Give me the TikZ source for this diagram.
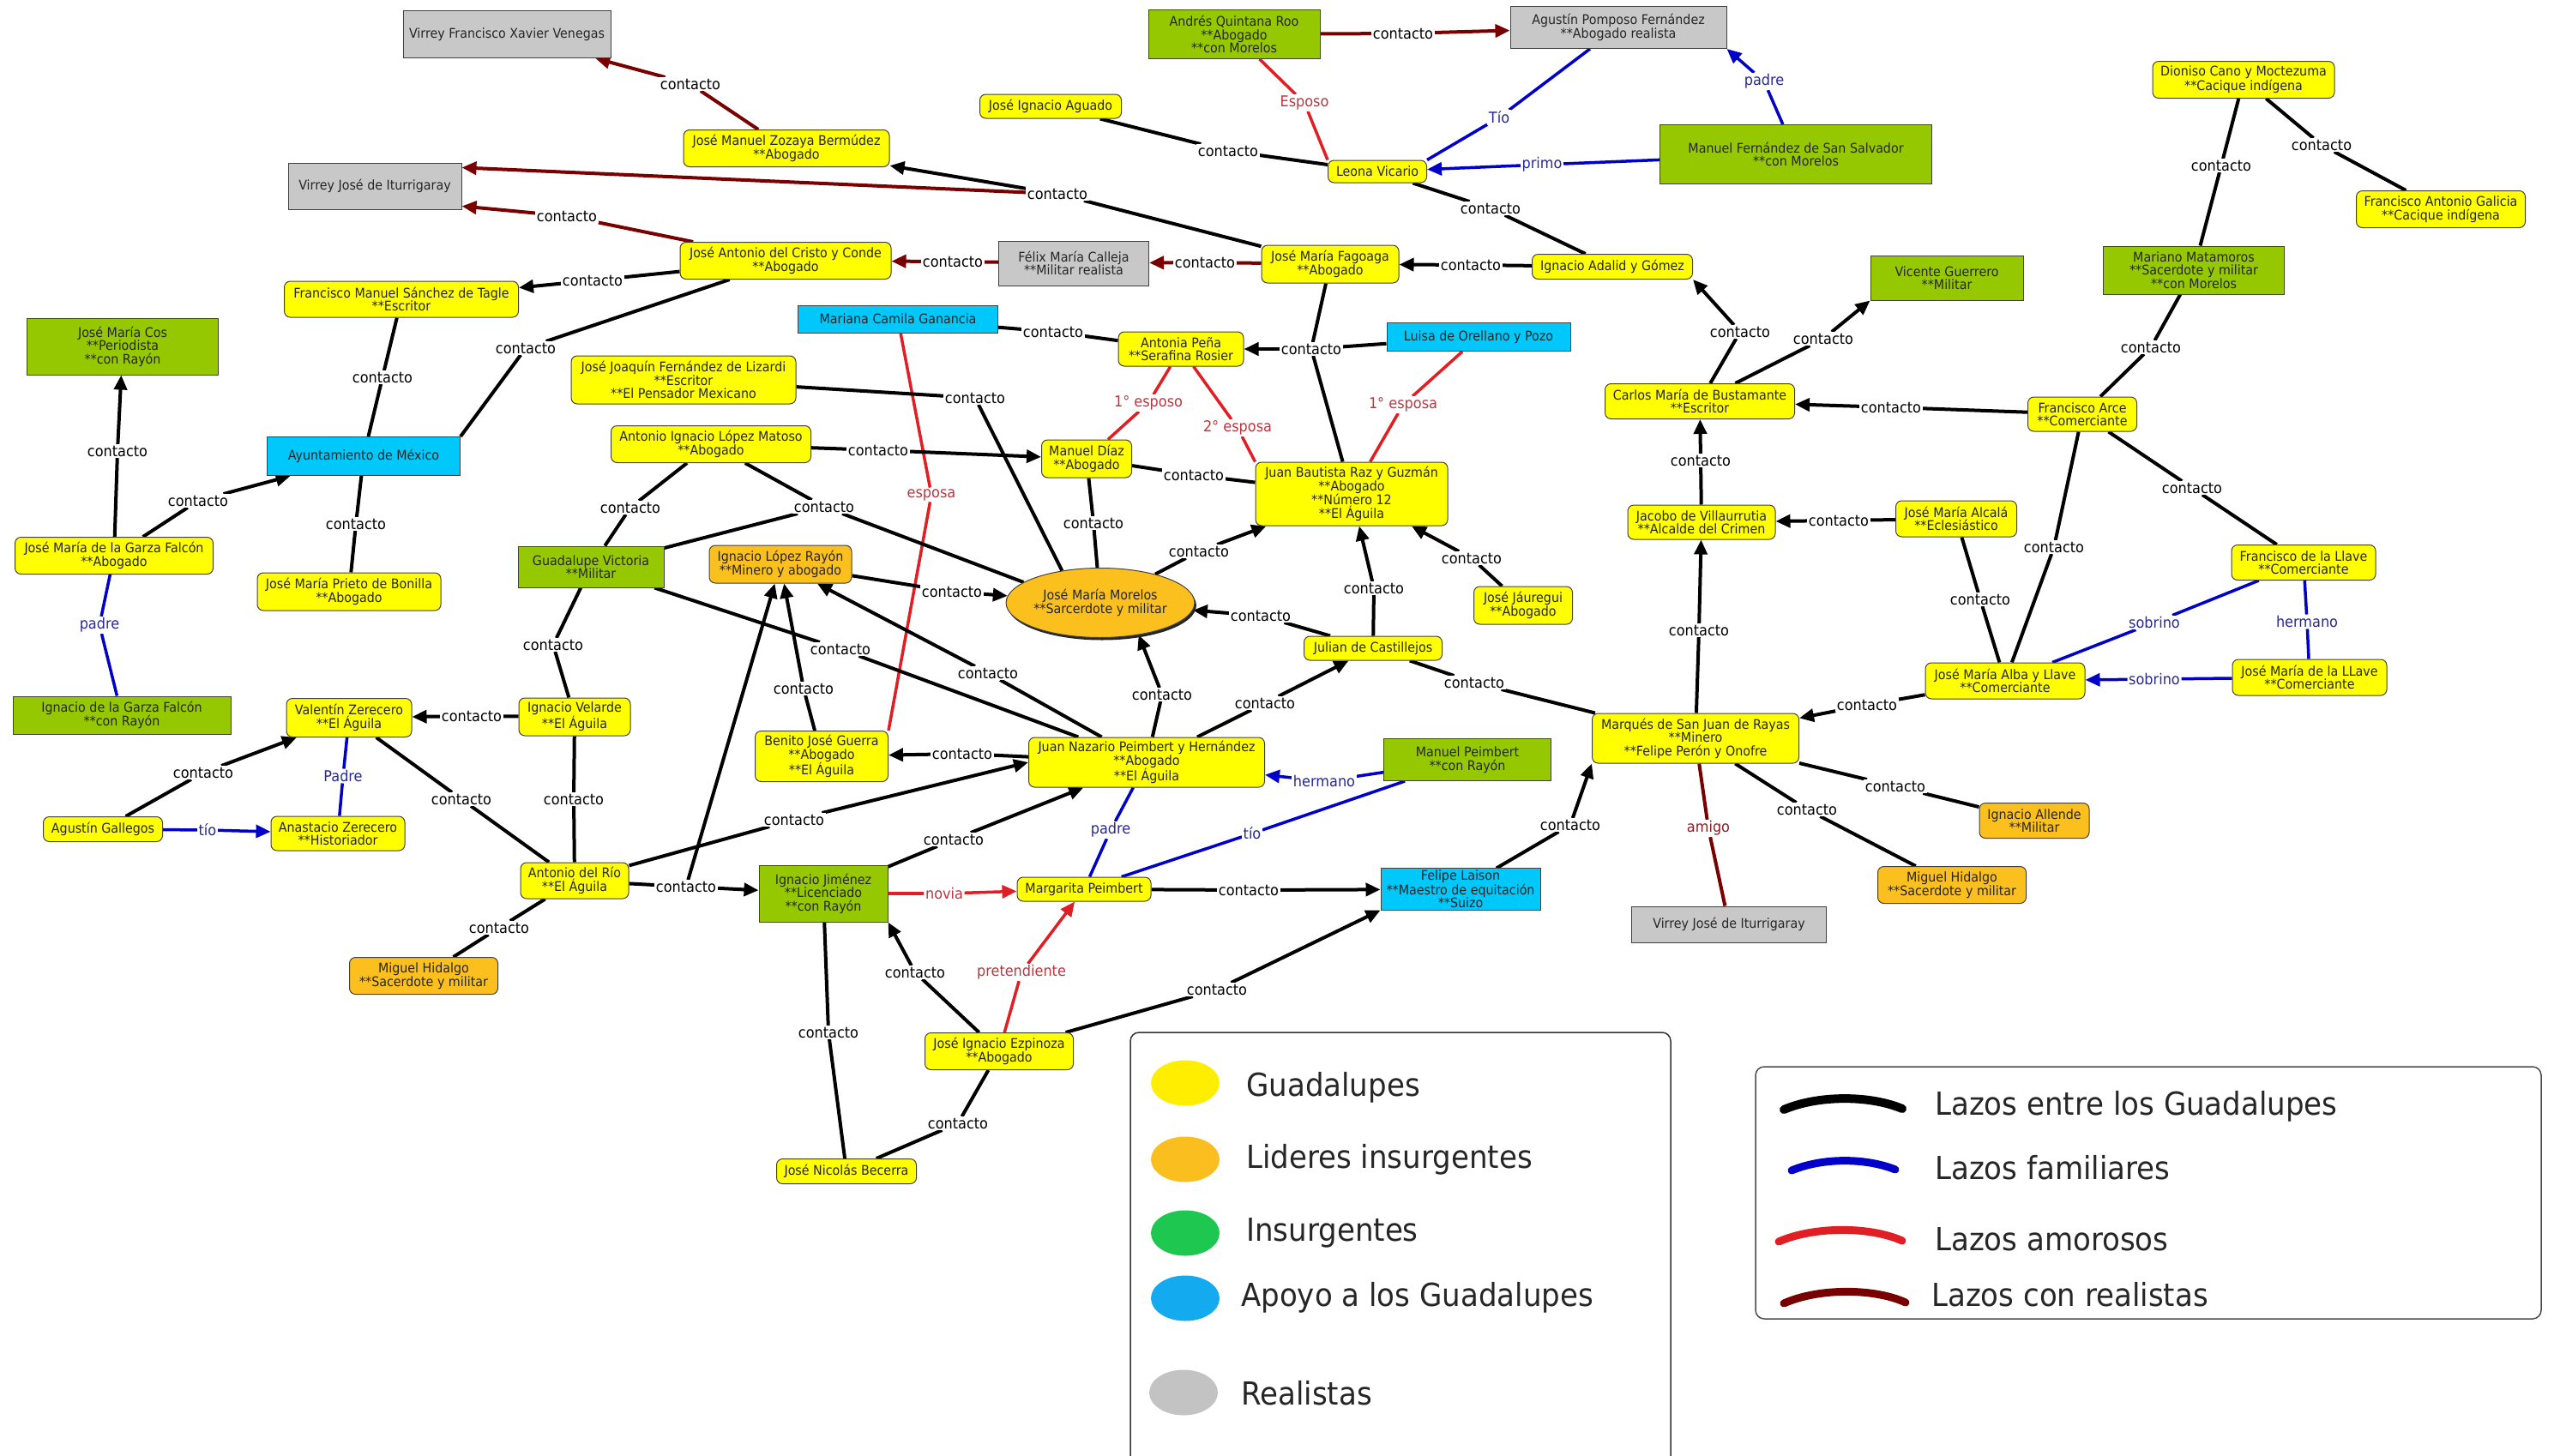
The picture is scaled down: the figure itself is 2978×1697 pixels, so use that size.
\documentclass[tikz,border=0pt]{standalone}
\usepackage{fontspec}
\setmainfont{DejaVu Sans}[FakeStretch=0.92]
\usetikzlibrary{arrows.meta,shapes.geometric,shadows}
\definecolor{cyel}{RGB}{255,255,0}
\definecolor{corg}{RGB}{252,192,30}
\definecolor{cgrn}{RGB}{150,200,0}
\definecolor{cblu}{RGB}{0,200,250}
\definecolor{cgry}{RGB}{200,200,200}
\definecolor{cdred}{RGB}{120,0,0}
\definecolor{cred}{RGB}{225,30,35}
\definecolor{cbl}{RGB}{0,0,200}
\definecolor{tblu}{RGB}{40,40,150}
\definecolor{tred}{RGB}{185,55,65}
\definecolor{tdred}{RGB}{140,30,40}
\definecolor{ltyel}{RGB}{255,238,0}
\definecolor{ltorg}{RGB}{250,190,30}
\definecolor{ltgrn}{RGB}{30,200,80}
\definecolor{ltblu}{RGB}{20,170,240}
\definecolor{ltgry}{RGB}{195,195,195}
\newcommand\nodefont{\fontsize{15.5}{15.5}\selectfont}
\newcommand\labfont{\fontsize{17.5}{18}\selectfont}
\newcommand\legfont{\fontsize{37}{40}\selectfont}
\newcommand\Nd[7]{\node[#1,minimum width=#5pt,minimum height=#6pt] (#2) at (#3,#4) {#7};}
\newcommand\Lb[5]{\node[#1] (#2) at (#3,#4) {#5};}
\pgfdeclarelayer{bgl}\pgfdeclarelayer{edges}\pgfsetlayers{bgl,edges,main}
\tikzset{
 nd/.style={draw=black!75,line width=1pt,align=center,inner sep=2pt,font=\nodefont,text=black!85},
 yel/.style={nd,fill=cyel,rounded corners=7pt},
 org/.style={nd,fill=corg,rounded corners=7pt},
 grn/.style={nd,fill=cgrn},
 blu/.style={nd,fill=cblu},
 gry/.style={nd,fill=cgry},
 lab/.style={font=\labfont,inner sep=1.5pt,fill=white,text=black},
 labf/.style={lab,text=tblu},
 labr/.style={lab,text=tred},
 labd/.style={lab,text=tdred},
 tip/.style={-{Triangle[length=17pt,width=15pt]}},
 c/.style={line width=4pt,black},
 ca/.style={c,tip},
 r/.style={line width=4pt,cdred},
 ra/.style={r,tip},
 a/.style={line width=3.5pt,cred},
 aa/.style={a,tip},
 f/.style={line width=3.5pt,cbl},
 fa/.style={f,tip},
 legtxt/.style={font=\legfont,anchor=west,inner sep=0pt,text=black!85}
}
\begin{document}
\begin{tikzpicture}[x=1pt,y=-1pt]
\useasboundingbox (0,0) rectangle (2978,1697);
\begin{pgfonlayer}{bgl}\fill[white] (0,0) rectangle (2978,1697);\end{pgfonlayer}
% realistas
\Nd{gry}{venegas}{591}{40}{242}{55}{Virrey Francisco Xavier Venegas}
\Nd{gry}{iturri1}{437}{217}{202}{54}{Virrey José de Iturrigaray}
\Nd{gry}{pomposo}{1887}{32}{252}{49}{Agustín Pomposo Fernández\\**Abogado realista}
\Nd{gry}{calleja}{1252}{307}{175}{52}{Félix María Calleja\\**Militar realista}
\Nd{gry}{iturri2}{2016}{1078}{227}{42}{Virrey José de Iturrigaray}
% insurgentes
\Nd{grn}{quintana}{1439}{40}{200}{57}{Andrés Quintana Roo\\**Abogado\\**con Morelos}
\Nd{grn}{mfss}{2094}{180}{317}{69}{Manuel Fernández de San Salvador\\**con Morelos}
\Nd{grn}{vicente}{2270}{324}{178}{52}{Vicente Guerrero\\**Militar}
\Nd{grn}{mariano}{2558}{315}{211}{56}{Mariano Matamoros\\**Sacerdote y militar\\**con Morelos}
\Nd{grn}{cos}{143}{404}{223}{66}{José María Cos\\**Periodista\\**con Rayón}
\Nd{grn}{igarza}{142}{834}{254}{44}{Ignacio de la Garza Falcón\\**con Rayón}
\Nd{grn}{victoria}{689}{661}{170}{48}{Guadalupe Victoria\\**Militar}
\Nd{grn}{jimenez}{960}{1042}{150}{66}{Ignacio Jiménez\\**Licenciado\\**con Rayón}
\Nd{grn}{mpeimbert}{1711}{886}{195}{49}{Manuel Peimbert\\**con Rayón}
% apoyo
\Nd{blu}{ayunt}{424}{532}{225}{45}{Ayuntamiento de México}
\Nd{blu}{mariana}{1047}{372}{233}{32}{Mariana Camila Ganancia}
\Nd{blu}{luisa}{1724}{393}{214}{33}{Luisa de Orellano y Pozo}
\Nd{blu}{felipe}{1703}{1037}{186}{48}{Felipe Laison\\**Maestro de equitación\\**Suizo}
% lideres
\Nd{org}{rayon}{910}{658}{166}{44}{Ignacio López Rayón\\**Minero y abogado}
\node[nd,ellipse,fill=corg,minimum width=212pt,minimum height=81pt,inner sep=0pt,drop shadow={shadow xshift=2pt,shadow yshift=-3pt,fill=black!85,opacity=1}] (morelos) at (1283,703) {José María Morelos\\**Sarcerdote y militar};
\Nd{org}{hidalgo1}{494}{1138}{173}{43}{Miguel Hidalgo\\**Sacerdote y militar}
\Nd{org}{hidalgo2}{2276}{1032}{173}{43}{Miguel Hidalgo\\**Sacerdote y militar}
\Nd{org}{allende}{2372}{957}{128}{41}{Ignacio Allende\\**Militar}
% guadalupes
\Nd{yel}{zozaya}{917}{173}{240}{43}{José Manuel Zozaya Bermúdez\\**Abogado}
\Nd{yel}{aguado}{1225}{124}{165}{28}{José Ignacio Aguado}
\Nd{yel}{leona}{1606}{200}{115}{26}{Leona Vicario}
\Nd{yel}{cristo}{916}{304}{246}{43}{José Antonio del Cristo y Conde\\**Abogado}
\Nd{yel}{tagle}{468}{349}{273}{42}{Francisco Manuel Sánchez de Tagle\\**Escritor}
\Nd{yel}{fagoaga}{1551}{308}{160}{44}{José María Fagoaga\\**Abogado}
\Nd{yel}{adalid}{1880}{311}{187}{29}{Ignacio Adalid y Gómez}
\Nd{yel}{dioniso}{2616}{93}{212}{43}{Dioniso Cano y Moctezuma\\**Cacique indígena}
\Nd{yel}{galicia}{2846}{244}{197}{43}{Francisco Antonio Galicia\\**Cacique indígena}
\Nd{yel}{antonia}{1377}{407}{146}{40}{Antonia Peña\\**Serafina Rosier}
\Nd{yel}{lizardi}{797}{443}{262}{56}{José Joaquín Fernández de Lizardi\\**Escritor\\**El Pensador Mexicano}
\Nd{yel}{matoso}{829}{518}{233}{43}{Antonio Ignacio López Matoso\\**Abogado}
\Nd{yel}{diaz}{1267}{535}{105}{44}{Manuel Díaz\\**Abogado}
\Nd{yel}{jbautista}{1576}{576}{224}{74}{Juan Bautista Raz y Guzmán\\**Abogado\\**Número 12\\**El Águila}
\Nd{yel}{carlos}{1982}{468}{221}{41}{Carlos María de Bustamante\\**Escritor}
\Nd{yel}{arce}{2428}{483}{127}{40}{Francisco Arce\\**Comerciante}
\Nd{yel}{jacobo}{1984}{609}{172}{40}{Jacobo de Villaurrutia\\**Alcalde del Crimen}
\Nd{yel}{alcala}{2281}{605}{141}{42}{José María Alcalá\\**Eclesiástico}
\Nd{yel}{fllave}{2686}{656}{168}{41}{Francisco de la Llave\\**Comerciante}
\Nd{yel}{jgarza}{133}{648}{231}{43}{José María de la Garza Falcón\\**Abogado}
\Nd{yel}{prieto}{407}{690}{214}{44}{José María Prieto de Bonilla\\**Abogado}
\Nd{yel}{jauregui}{1776}{706}{115}{44}{José Jáuregui\\**Abogado}
\Nd{yel}{julian}{1601}{756}{161}{28}{Julian de Castillejos}
\Nd{yel}{alba}{2338}{794}{186}{42}{José María Alba y Llave\\**Comerciante}
\Nd{yel}{jmllave}{2693}{790}{180}{42}{José María de la LLave\\**Comerciante}
\Nd{yel}{zerecero}{407}{837}{146}{45}{Valentín Zerecero\\**El Águila}
\Nd{yel}{velarde}{670}{836}{130}{44}{Ignacio Velarde\\**El Águila}
\Nd{yel}{marques}{1977}{861}{241}{58}{Marqués de San Juan de Rayas\\**Minero\\**Felipe Perón y Onofre}
\Nd{yel}{benito}{958}{882}{155}{59}{Benito José Guerra\\**Abogado\\**El Águila}
\Nd{yel}{nazario}{1337}{889}{275}{58}{Juan Nazario Peimbert y Hernández\\**Abogado\\**El Águila}
\Nd{yel}{gallegos}{120}{967}{139}{29}{Agustín Gallegos}
\Nd{yel}{anastacio}{394}{972}{156}{40}{Anastacio Zerecero\\**Historiador}
\Nd{yel}{rio}{670}{1027}{126}{42}{Antonio del Río\\**El Águila}
\Nd{yel}{margarita}{1264}{1037}{156}{28}{Margarita Peimbert}
\Nd{yel}{ezpinoza}{1165}{1226}{173}{43}{José Ignacio Ezpinoza\\**Abogado}
\Nd{yel}{becerra}{987}{1366}{163}{29}{José Nicolás Becerra}
% labels
\Lb{lab}{L1}{805}{98}{contacto}
\Lb{lab}{L2}{1233}{226}{contacto}
\Lb{lab}{L3}{661}{252}{contacto}
\Lb{lab}{L4}{691}{327}{contacto}
\Lb{lab}{L5}{613}{406}{contacto}
\Lb{lab}{L6}{446}{440}{contacto}
\Lb{lab}{L7}{137}{526}{contacto}
\Lb{lab}{L8}{231}{584}{contacto}
\Lb{lab}{L9}{415}{611}{contacto}
\Lb{labf}{F1}{116}{729}{padre}
\Lb{lab}{L11}{1111}{305}{contacto}
\Lb{lab}{L12}{1405}{306}{contacto}
\Lb{lab}{L13}{1636}{39}{contacto}
\Lb{labr}{R14}{1521}{120}{Esposo}
\Lb{labf}{F15}{1748}{137}{Tío}
\Lb{labf}{F16}{1798}{192}{primo}
\Lb{labf}{F17}{2057}{95}{padre}
\Lb{lab}{L18}{1432}{176}{contacto}
\Lb{lab}{L19}{1738}{243}{contacto}
\Lb{lab}{L20}{1715}{309}{contacto}
\Lb{lab}{L21}{1228}{387}{contacto}
\Lb{lab}{L22}{1529}{407}{contacto}
\Lb{labr}{R23}{1339}{470}{1° esposo}
\Lb{labr}{R24}{1443}{499}{2° esposa}
\Lb{labr}{R25}{1636}{472}{1° esposa}
\Lb{labr}{R26}{1086}{577}{esposa}
\Lb{lab}{L27}{1137}{464}{contacto}
\Lb{lab}{L28}{1024}{525}{contacto}
\Lb{lab}{L29}{735}{592}{contacto}
\Lb{lab}{L30}{961}{591}{contacto}
\Lb{lab}{L31}{1392}{554}{contacto}
\Lb{lab}{L32}{1275}{610}{contacto}
\Lb{lab}{L33}{1398}{643}{contacto}
\Lb{lab}{L34}{1110}{690}{contacto}
\Lb{lab}{L35}{1470}{718}{contacto}
\Lb{lab}{L36}{1602}{686}{contacto}
\Lb{lab}{L37}{1716}{651}{contacto}
\Lb{lab}{L38}{980}{757}{contacto}
\Lb{lab}{L39}{1152}{785}{contacto}
\Lb{lab}{L40}{937}{803}{contacto}
\Lb{lab}{L41}{1355}{810}{contacto}
\Lb{lab}{L42}{1475}{820}{contacto}
\Lb{lab}{L43}{1719}{796}{contacto}
\Lb{lab}{L44}{645}{752}{contacto}
\Lb{lab}{L45}{550}{835}{contacto}
\Lb{lab}{L46}{237}{901}{contacto}
\Lb{labf}{F47}{400}{905}{Padre}
\Lb{labf}{F48}{242}{968}{tío}
\Lb{lab}{L49}{538}{932}{contacto}
\Lb{lab}{L50}{669}{932}{contacto}
\Lb{lab}{L51}{582}{1082}{contacto}
\Lb{lab}{L52}{800}{1034}{contacto}
\Lb{lab}{L53}{926}{956}{contacto}
\Lb{lab}{L54}{1122}{879}{contacto}
\Lb{lab}{L55}{1112}{979}{contacto}
\Lb{labf}{F56}{1295}{968}{padre}
\Lb{labf}{F57}{1544}{911}{hermano}
\Lb{labf}{F58}{1460}{972}{tío}
\Lb{labr}{R59}{1101}{1042}{novia}
\Lb{labr}{R60}{1191}{1134}{pretendiente}
\Lb{lab}{L61}{1067}{1134}{contacto}
\Lb{lab}{L62}{1419}{1154}{contacto}
\Lb{lab}{L63}{1456}{1038}{contacto}
\Lb{lab}{L64}{966}{1204}{contacto}
\Lb{lab}{L65}{1117}{1310}{contacto}
\Lb{lab}{L66}{1831}{962}{contacto}
\Lb{labd}{D67}{1992}{966}{amigo}
\Lb{lab}{L68}{2107}{944}{contacto}
\Lb{lab}{L69}{2210}{917}{contacto}
\Lb{lab}{L70}{2177}{822}{contacto}
\Lb{lab}{L71}{1981}{735}{contacto}
\Lb{lab}{L72}{1983}{537}{contacto}
\Lb{lab}{L73}{2144}{607}{contacto}
\Lb{lab}{L74}{2309}{699}{contacto}
\Lb{lab}{L75}{2395}{638}{contacto}
\Lb{lab}{L76}{2205}{475}{contacto}
\Lb{lab}{L77}{2029}{387}{contacto}
\Lb{lab}{L78}{2126}{395}{contacto}
\Lb{lab}{L79}{2508}{405}{contacto}
\Lb{lab}{L80}{2590}{193}{contacto}
\Lb{lab}{L81}{2707}{169}{contacto}
\Lb{lab}{L82}{2556}{569}{contacto}
\Lb{labf}{F83}{2512}{726}{sobrino}
\Lb{labf}{F84}{2512}{792}{sobrino}
\Lb{labf}{F85}{2690}{725}{hermano}
% edges
\begin{pgfonlayer}{edges}
\draw[r] (zozaya) -- (L1); \draw[ra] (L1) -- (venegas);
\draw[c] (fagoaga) -- (L2); \draw[ca] (L2) -- (zozaya); \draw[ra] (L2) -- (iturri1.12);
\draw[r] (cristo) -- (L3); \draw[ra] (L3) -- (iturri1.-13);
\draw[c] (cristo) -- (L4); \draw[ca] (L4) -- (tagle);
\draw[c] (cristo) -- (L5) -- (ayunt.north east);
\draw[c] (tagle) -- (L6) -- (ayunt);
\draw[c] (jgarza) -- (L7); \draw[ca] (L7) -- (cos);
\draw[c] (jgarza) -- (L8); \draw[ca] (L8) -- (ayunt);
\draw[c] (ayunt) -- (L9) -- (prieto);
\draw[f] (igarza) -- (F1) -- (jgarza);
\draw[r] (calleja) -- (L11); \draw[ra] (L11) -- (cristo);
\draw[r] (fagoaga) -- (L12); \draw[ra] (L12) -- (calleja);
\draw[r] (quintana) -- (L13); \draw[ra] (L13) -- (pomposo);
\draw[a] (quintana) -- (R14) -- (leona.north west);
\draw[f] (pomposo) -- (F15) -- (leona.north east);
\draw[f] (mfss) -- (F16); \draw[fa] (F16) -- (leona);
\draw[f] (mfss) -- (F17); \draw[fa] (F17) -- (pomposo.south east);
\draw[c] (aguado) -- (L18) -- (leona);
\draw[c] (leona) -- (L19) -- (adalid);
\draw[c] (adalid) -- (L20); \draw[ca] (L20) -- (fagoaga);
\draw[c] (mariana) -- (L21) -- (antonia);
\draw[c] (fagoaga) -- (L22) -- (jbautista); \draw[c] (luisa) -- (L22); \draw[ca] (L22) -- (antonia);
\draw[a] (antonia) -- (R23) -- (diaz);
\draw[a] (antonia) -- (R24) -- (jbautista.north west);
\draw[a] (luisa) -- (R25) -- (jbautista);
\draw[a] (mariana) -- (R26) -- (benito.north east);
\draw[c] (lizardi) -- (L27) -- (morelos.140);
\draw[c] (matoso) -- (L28); \draw[ca] (L28) -- (diaz);
\draw[c] (matoso) -- (L29) -- (victoria);
\draw[c] (matoso) -- (L30); \draw[c] (victoria) -- (L30); \draw[c] (L30) -- (morelos.165);
\draw[c] (diaz) -- (L31) -- (jbautista);
\draw[c] (diaz) -- (L32) -- (morelos);
\draw[c] (morelos) -- (L33); \draw[ca] (L33) -- (jbautista);
\draw[c] (rayon) -- (L34); \draw[ca] (L34) -- (morelos);
\draw[c] (julian) -- (L35); \draw[ca] (L35) -- (morelos);
\draw[c] (julian) -- (L36); \draw[ca] (L36) -- (jbautista);
\draw[c] (jauregui) -- (L37); \draw[ca] (L37) -- (jbautista);
\draw[c] (victoria) -- (L38) -- (nazario);
\draw[c] (nazario) -- (L39); \draw[ca] (L39) -- (rayon);
\draw[c] (benito) -- (L40); \draw[ca] (L40) -- (rayon);
\draw[c] (nazario) -- (L41); \draw[ca] (L41) -- (morelos.-40);
\draw[c] (nazario) -- (L42); \draw[ca] (L42) -- (julian);
\draw[c] (marques) -- (L43) -- (julian);
\draw[c] (velarde) -- (L44) -- (victoria);
\draw[c] (velarde) -- (L45); \draw[ca] (L45) -- (zerecero);
\draw[c] (gallegos) -- (L46); \draw[ca] (L46) -- (zerecero);
\draw[f] (zerecero) -- (F47) -- (anastacio);
\draw[f] (gallegos) -- (F48); \draw[fa] (F48) -- (anastacio);
\draw[c] (zerecero) -- (L49) -- (rio);
\draw[c] (velarde) -- (L50) -- (rio);
\draw[c] (rio) -- (L51) -- (hidalgo1);
\draw[c] (rio) -- (L52); \draw[ca] (L52) -- (jimenez); \draw[ca] (L52) -- (rayon);
\draw[c] (rio) -- (L53); \draw[ca] (L53) -- (nazario.west);
\draw[c] (nazario) -- (L54); \draw[ca] (L54) -- (benito);
\draw[c] (jimenez) -- (L55); \draw[ca] (L55) -- (nazario);
\draw[f] (nazario) -- (F56) -- (margarita);
\draw[f] (mpeimbert) -- (F57); \draw[fa] (F57) -- (nazario);
\draw[f] (mpeimbert) -- (F58) -- (margarita);
\draw[a] (jimenez) -- (R59); \draw[aa] (R59) -- (margarita);
\draw[a] (ezpinoza) -- (R60); \draw[aa] (R60) -- (margarita);
\draw[c] (ezpinoza) -- (L61); \draw[ca] (L61) -- (jimenez.south east);
\draw[c] (ezpinoza) -- (L62); \draw[ca] (L62) -- (felipe.south west);
\draw[c] (margarita) -- (L63); \draw[ca] (L63) -- (felipe);
\draw[c] (jimenez) -- (L64) -- (becerra);
\draw[c] (ezpinoza) -- (L65) -- (becerra);
\draw[c] (felipe) -- (L66); \draw[ca] (L66) -- (marques.south west);
\draw[r] (marques) -- (D67) -- (iturri2);
\draw[c] (marques) -- (L68) -- (hidalgo2);
\draw[c] (marques) -- (L69) -- (allende);
\draw[c] (alba) -- (L70); \draw[ca] (L70) -- (marques);
\draw[c] (marques) -- (L71); \draw[ca] (L71) -- (jacobo);
\draw[c] (jacobo) -- (L72); \draw[ca] (L72) -- (carlos);
\draw[c] (alcala) -- (L73); \draw[ca] (L73) -- (jacobo);
\draw[c] (alcala) -- (L74) -- (alba);
\draw[c] (arce) -- (L75) -- (alba);
\draw[c] (arce) -- (L76); \draw[ca] (L76) -- (carlos);
\draw[c] (carlos) -- (L77); \draw[ca] (L77) -- (adalid.south east);
\draw[c] (carlos) -- (L78); \draw[ca] (L78) -- (vicente.south west);
\draw[c] (mariano) -- (L79) -- (arce);
\draw[c] (dioniso) -- (L80) -- (mariano);
\draw[c] (dioniso) -- (L81) -- (galicia);
\draw[c] (arce) -- (L82) -- (fllave);
\draw[f] (fllave) -- (F83) -- (alba);
\draw[f] (jmllave) -- (F84); \draw[fa] (F84) -- (alba);
\draw[f] (fllave) -- (F85) -- (jmllave);
\end{pgfonlayer}
% legend 1
\draw[line width=1.5pt,black!80,rounded corners=10pt] (1318,1700) -- (1318,1204) -- (1948,1204) -- (1948,1700);
\node[ellipse,fill=ltyel,minimum width=80pt,minimum height=53pt] (lg1) at (1382,1263) {};
\node[ellipse,fill=ltorg,minimum width=80pt,minimum height=53pt] (lg2) at (1382,1352) {};
\node[ellipse,fill=ltgrn,minimum width=80pt,minimum height=53pt] (lg3) at (1382,1438) {};
\node[ellipse,fill=ltblu,minimum width=80pt,minimum height=53pt] (lg4) at (1382,1514) {};
\node[ellipse,fill=ltgry,minimum width=80pt,minimum height=53pt] (lg5) at (1380,1624) {};
\node[legtxt] (lt1) at (1453,1268) {Guadalupes};
\node[legtxt] (lt2) at (1453,1352) {Lideres insurgentes};
\node[legtxt] (lt3) at (1453,1438) {Insurgentes};
\node[legtxt] (lt4) at (1447,1513) {Apoyo a los Guadalupes};
\node[legtxt] (lt5) at (1447,1625) {Realistas};
% legend 2
\draw[line width=1.5pt,black!70,rounded corners=10pt] (2047,1244) rectangle (2963,1538);
\draw[line width=10pt,line cap=round,black] (2080,1294) .. controls (2120,1277) and (2180,1277) .. (2218,1293);
\draw[line width=9pt,line cap=round,cbl] (2089,1365) .. controls (2125,1350) and (2175,1350) .. (2210,1364);
\draw[line width=9pt,line cap=round,cred] (2074,1448) .. controls (2115,1430) and (2180,1430) .. (2218,1447);
\draw[line width=9pt,line cap=round,cdred] (2080,1520) .. controls (2120,1502) and (2185,1502) .. (2222,1519);
\node[legtxt] (lt6) at (2256,1290) {Lazos entre los Guadalupes};
\node[legtxt] (lt7) at (2256,1362) {Lazos familiares};
\node[legtxt] (lt8) at (2256,1445) {Lazos amorosos};
\node[legtxt] (lt9) at (2252,1510) {Lazos con realistas};
\end{tikzpicture}
\end{document}
